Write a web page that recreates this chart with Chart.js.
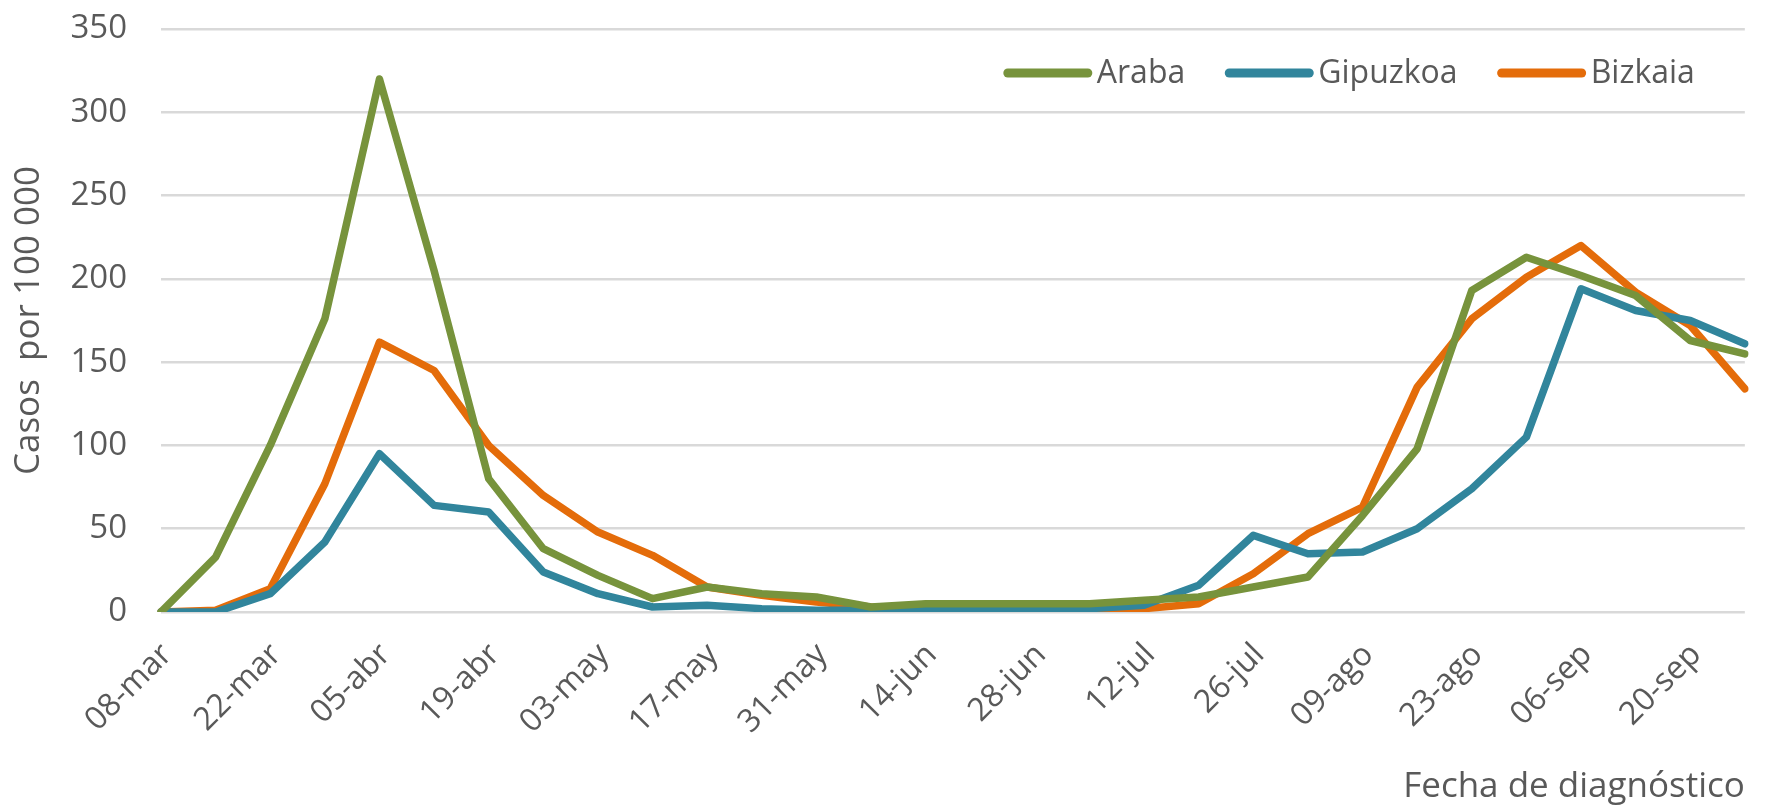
<!DOCTYPE html>
<html>
<head>
<meta charset="utf-8">
<script src="https://cdn.jsdelivr.net/npm/chart.js@4.4.1/dist/chart.umd.min.js"></script>
<style>
html,body{margin:0;padding:0;background:#fff;}
#wrap{width:1788px;height:808px;position:relative;}
</style>
</head>
<body>
<div id="wrap"><canvas id="c" width="1788" height="808"></canvas></div>
<script>
const categories = ["08-mar","15-mar","22-mar","29-mar","05-abr","12-abr","19-abr","26-abr","03-may","10-may","17-may","24-may","31-may","07-jun","14-jun","21-jun","28-jun","05-jul","12-jul","19-jul","26-jul","02-ago","09-ago","16-ago","23-ago","30-ago","06-sep","13-sep","20-sep","27-sep"];
const araba    = [0,33,100,176,320,205,80,38,22,8,15,11,9,3,5,5,5,5,7,9,15,21,58,98,193,213,202,190,163,155];
const gipuzkoa = [0,0,11,42,95,64,60,24,11,3,4,2,1,1,1,2,2,2,4,16,46,35,36,50,74,105,194,181,175,161];
const bizkaia  = [0,1,14,77,162,145,100,70,48,34,15,10,6,3,2,4,4,2,2,5,23,47,63,135,176,201,220,192,172,134];
const yTicks = [0,50,100,150,200,250,300,350];

const FONT = "'Open Sans', sans-serif";
const GREY = '#595959';

// Legend drawn inside the plot area, top-right, as line samples + text
const insideLegend = {
  id: 'insideLegend',
  afterDraw(chart) {
    const ctx = chart.ctx;
    const area = chart.chartArea;
    const ds = chart.data.datasets;
    const lineLen = 88, gapText = 5, gapItem = 40, fontSize = 32;
    ctx.save();
    ctx.font = fontSize + "px " + FONT;
    let total = 0;
    const widths = ds.map(d => ctx.measureText(d.label).width);
    widths.forEach((w, i) => { total += lineLen + gapText + w + (i < ds.length - 1 ? gapItem : 0); });
    let x = area.right - 50 - total;
    const y = area.top + 44;
    ds.forEach((d, i) => {
      ctx.strokeStyle = d.borderColor;
      ctx.lineWidth = 9;
      ctx.lineCap = 'round';
      ctx.beginPath();
      ctx.moveTo(x + 4, y);
      ctx.lineTo(x + lineLen - 4, y);
      ctx.stroke();
      x += lineLen + gapText;
      ctx.fillStyle = GREY;
      ctx.textBaseline = 'middle';
      ctx.textAlign = 'left';
      ctx.fillText(d.label, x, y + 1);
      x += widths[i] + gapItem;
    });
    ctx.restore();
  }
};

new Chart(document.getElementById('c'), {
  type: 'line',
  data: {
    labels: categories,
    datasets: [
      {label:'Araba', data: araba, borderColor:'#77933C', backgroundColor:'#77933C'},
      {label:'Gipuzkoa', data: gipuzkoa, borderColor:'#31859C', backgroundColor:'#31859C'},
      {label:'Bizkaia', data: bizkaia, borderColor:'#E46C0A', backgroundColor:'#E46C0A'}
    ]
  },
  plugins: [insideLegend],
  options: {
    responsive: false,
    animation: false,
    devicePixelRatio: 1,
    layout: {padding: {top: 29, right: 36, left: 0, bottom: 0}},
    elements: {
      line: {borderWidth: 7.5, tension: 0, borderJoinStyle: 'round', borderCapStyle: 'round'},
      point: {radius: 0, hoverRadius: 0}
    },
    plugins: {
      tooltip: {enabled: false},
      legend: {display: false}
    },
    scales: {
      x: {
        grid: {display: false},
        border: {display: false},
        offset: false,
        ticks: {
          autoSkip: false, maxRotation: 45, minRotation: 45, padding: 16, labelOffset: 6,
          color: GREY, font: {family: FONT, size: 32},
          callback: function(v, i) { return i % 2 === 0 ? categories[i] : ''; }
        },
        title: {display: true, text: 'Fecha de diagnóstico', align: 'end', color: GREY,
                font: {family: FONT, size: 35}, padding: {top: 0, bottom: 0}},
        afterFit(s) { s.height = 196; }
      },
      y: {
        min: 0, max: 350,
        afterBuildTicks(s) { s.ticks = yTicks.map(v => ({value: v})); },
        grid: {color: '#d9d9d9', lineWidth: 2.5, drawTicks: true, tickLength: 31, tickColor: 'rgba(0,0,0,0)'},
        border: {display: false},
        ticks: {color: GREY, font: {family: FONT, size: 33}, padding: 3},
        title: {display: true, text: 'Casos  por 100 000', color: GREY,
                font: {family: FONT, size: 35}, padding: {top: 8, bottom: 0}},
        afterFit(s) { s.width = 161; }
      }
    }
  }
});
</script>
</body>
</html>
